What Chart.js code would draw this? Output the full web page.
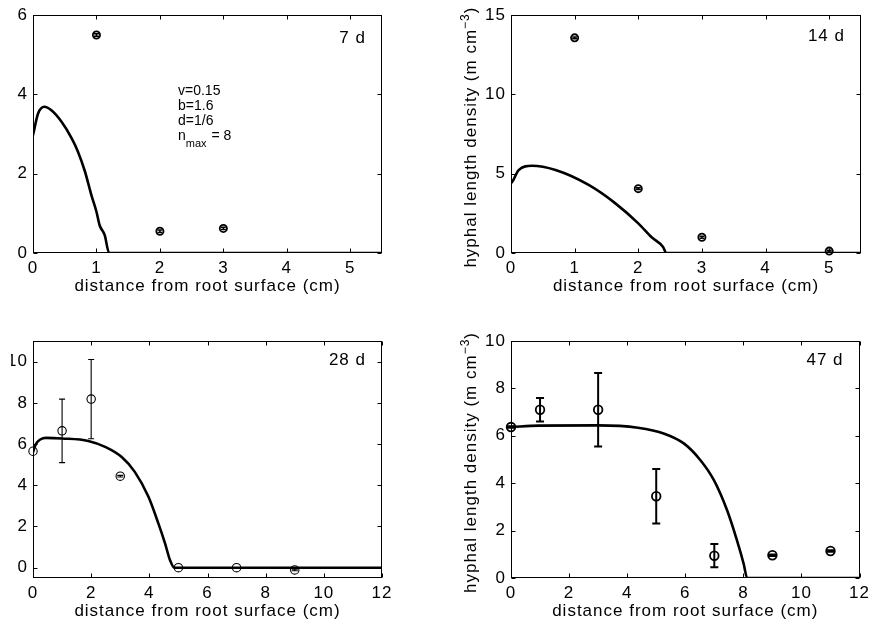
<!DOCTYPE html>
<html>
<head>
<meta charset="utf-8">
<script src="https://cdn.jsdelivr.net/npm/chart.js@4.4.0/dist/chart.umd.min.js"></script>
<style>
  html, body { margin: 0; padding: 0; background: #fff; }
  #page { position: relative; width: 874px; height: 631px; overflow: hidden; }
  .panel { position: absolute; overflow: hidden; }
  .panel canvas { position: absolute; top: 0; }
</style>
</head>
<body>
<div id="page">
  <div class="panel" style="left:0;top:0;width:437px;height:306px"><canvas id="c7" width="437" height="306" style="left:0"></canvas></div>
  <div class="panel" style="left:437px;top:0;width:437px;height:306px"><canvas id="c14" width="437" height="306" style="left:0"></canvas></div>
  <div class="panel" style="left:11px;top:318px;width:426px;height:313px"><canvas id="c28" width="437" height="313" style="left:-11px"></canvas></div>
  <div class="panel" style="left:437px;top:318px;width:437px;height:313px"><canvas id="c47" width="437" height="313" style="left:0"></canvas></div>
</div>
<script>
// tick labels
const xTicksShort = [0, 1, 2, 3, 4, 5];
const xTicksLong = [0, 2, 4, 6, 8, 10, 12];
const yTicks7 = [0, 2, 4, 6];
const yTicks14 = [0, 5, 10, 15];
const yTicks28 = [0, 2, 4, 6, 8, 10];
const yTicks47 = [0, 2, 4, 6, 8, 10];

// 7 d: measured densities and model curve
const obsX7 = [1, 2, 3];
const obsY7 = [5.5, 0.55, 0.62];
const obsErr7 = [0.03, 0.03, 0.03];
const fitX7 = [0, 0.08, 0.18, 0.29, 0.45, 0.61, 0.71, 0.82, 0.92, 1.0, 1.05, 1.13, 1.2, 5.5];
const fitY7 = [2.97, 3.52, 3.69, 3.6, 3.31, 2.89, 2.55, 2.05, 1.46, 1.04, 0.7, 0.45, 0, 0];

// 14 d
const obsX14 = [1, 2, 3, 5];
const obsY14 = [13.57, 4.06, 0.99, 0.12];
const obsErr14 = [0.06, 0.06, 0.06, 0.06];
const fitX14 = [0, 0.03, 0.12, 0.33, 0.7, 1.22, 1.64, 2.0, 2.21, 2.39, 2.44, 5.5];
const fitY14 = [4.4, 4.55, 5.23, 5.5, 5.23, 4.29, 3.13, 1.87, 0.99, 0.38, 0, 0];

// 28 d
const obsX28 = [0, 1, 2, 3, 5, 7, 9];
const obsY28 = [5.65, 6.64, 8.18, 4.44, 0, 0, -0.11];
const obsErr28 = [0, 1.54, 1.92, 0.04, 0, 0, 0.04];
const fitX28 = [0, 0.1, 0.25, 0.45, 1.0, 1.9, 2.5, 3.05, 3.5, 3.97, 4.31, 4.54, 4.71, 4.86, 12];
const fitY28 = [5.6, 6.0, 6.22, 6.3, 6.27, 6.15, 5.85, 5.37, 4.65, 3.44, 2.15, 1.18, 0.37, 0, 0];

// 47 d
const obsX47 = [0, 1, 3, 5, 7, 9, 11];
const obsY47 = [6.37, 7.1, 7.1, 3.45, 0.94, 0.96, 1.14];
const obsErr47 = [0.03, 0.5, 1.55, 1.15, 0.49, 0.03, 0.03];
const fitX47 = [0, 0.95, 3.0, 4.37, 5.28, 5.96, 6.53, 6.99, 7.44, 7.78, 8.01, 8.13, 12];
const fitY47 = [6.37, 6.43, 6.44, 6.34, 6.09, 5.67, 4.96, 4.12, 2.86, 1.59, 0.6, 0, 0];

const FAMILY = "'Liberation Sans', Arial, Helvetica, sans-serif";
const SPACING = '1px';

Chart.defaults.color = '#000';
Chart.defaults.font.family = FAMILY;
Chart.defaults.font.size = 17;

const pairs = (xs, ys) => xs.map((x, i) => ({ x, y: ys[i] }));

// box, inward ticks, error bars and text labels
const framePlugin = {
  id: 'frame',
  beforeDraw(chart) {
    chart.ctx.letterSpacing = SPACING;
  },
  afterDraw(chart, args, opts) {
    const { ctx, chartArea: a, scales: { x, y } } = chart;
    ctx.save();
    ctx.strokeStyle = '#000';
    ctx.fillStyle = '#000';

    // error bars
    chart.data.datasets.forEach(ds => {
      if (!ds.errors) return;
      ctx.lineWidth = ds.errWidth;
      ds.data.forEach((p, i) => {
        const e = ds.errors[i];
        if (!e) return;
        const px = x.getPixelForValue(p.x);
        const lo = y.getPixelForValue(p.y - e);
        const hi = y.getPixelForValue(p.y + e);
        const c = ds.capHalf;
        ctx.beginPath();
        ctx.moveTo(px, lo); ctx.lineTo(px, hi);
        ctx.moveTo(px - c, lo); ctx.lineTo(px + c, lo);
        ctx.moveTo(px - c, hi); ctx.lineTo(px + c, hi);
        ctx.stroke();
      });
    });

    // axes box
    ctx.lineWidth = 1;
    const L = Math.round(a.left) + 0.5, R = Math.round(a.right) - 0.5;
    const T = Math.round(a.top) + 0.5, B = Math.round(a.bottom) - 0.5;
    ctx.strokeRect(L, T, R - L, B - T);

    // inward ticks on all four sides
    const len = 4;
    ctx.beginPath();
    x.ticks.forEach(t => {
      const px = Math.round(x.getPixelForValue(t.value)) + 0.5;
      ctx.moveTo(px, B); ctx.lineTo(px, B - len);
      ctx.moveTo(px, T); ctx.lineTo(px, T + len);
    });
    y.ticks.forEach(t => {
      const py = Math.round(y.getPixelForValue(t.value)) + 0.5;
      ctx.moveTo(L, py); ctx.lineTo(L + len, py);
      ctx.moveTo(R, py); ctx.lineTo(R - len, py);
    });
    ctx.stroke();

    // day label
    ctx.letterSpacing = SPACING;
    ctx.font = '17px ' + FAMILY;
    ctx.textAlign = 'right';
    ctx.textBaseline = 'alphabetic';
    ctx.fillText(opts.day, a.right - 16, a.top + opts.dayDy);

    // parameter notes
    if (opts.notes) {
      ctx.letterSpacing = '0px';
      ctx.textAlign = 'left';
      ctx.font = '14px ' + FAMILY;
      const nx = a.left + 145;
      let ny = a.top + 80;
      opts.notes.forEach(line => {
        ctx.fillText(line, nx, ny);
        ny += 15;
      });
      ctx.fillText('n', nx, ny);
      const wn = ctx.measureText('n').width;
      ctx.font = '11px ' + FAMILY;
      ctx.fillText('max', nx + wn, ny + 7);
      const wm = ctx.measureText('max').width;
      ctx.font = '14px ' + FAMILY;
      ctx.fillText(' = 8', nx + wn + wm + 1, ny);
    }

    // y-axis title with superscript
    if (opts.yTitle) {
      const main = 'hyphal length density (m cm';
      const sup = '\u22123';
      const tail = ')';
      const mainFont = '17px ' + FAMILY;
      const supFont = '12px ' + FAMILY;
      ctx.letterSpacing = SPACING;
      ctx.textAlign = 'left';
      ctx.font = mainFont;
      const w1 = ctx.measureText(main).width;
      const w3 = ctx.measureText(tail).width;
      ctx.font = supFont;
      const w2 = ctx.measureText(sup).width;
      const total = w1 + w2 + w3;
      ctx.translate(opts.yTitleX, (a.top + a.bottom) / 2 + 3);
      ctx.rotate(-Math.PI / 2);
      let cx = -total / 2;
      ctx.font = mainFont;
      ctx.fillText(main, cx, 0);
      cx += w1;
      ctx.font = supFont;
      ctx.fillText(sup, cx, -7);
      cx += w2;
      ctx.font = mainFont;
      ctx.fillText(tail, cx, 0);
    }
    ctx.restore();
  }
};

function makePanel(id, cfg) {
  return new Chart(document.getElementById(id), {
    type: 'scatter',
    data: {
      datasets: [{
        data: pairs(cfg.fitX, cfg.fitY),
        showLine: true,
        borderColor: '#000',
        borderWidth: 2.6,
        pointRadius: 0,
        cubicInterpolationMode: 'monotone'
      }, {
        data: pairs(cfg.obsX, cfg.obsY),
        errors: cfg.obsErr,
        errWidth: cfg.errWidth,
        capHalf: cfg.capHalf,
        showLine: false,
        pointStyle: 'circle',
        pointRadius: cfg.markerR,
        pointBorderWidth: cfg.markerW,
        pointBorderColor: '#000',
        pointBackgroundColor: 'rgba(0,0,0,0)',
        clip: false
      }]
    },
    options: {
      responsive: false,
      animation: false,
      devicePixelRatio: 1,
      events: [],
      layout: { padding: cfg.padding },
      plugins: {
        legend: { display: false },
        tooltip: { enabled: false },
        frame: { day: cfg.day, dayDy: cfg.dayDy, notes: cfg.notes, yTitle: cfg.yTitle, yTitleX: 39 }
      },
      scales: {
        x: {
          type: 'linear',
          min: cfg.xMin, max: cfg.xMax,
          grid: { display: false, drawTicks: false },
          border: { display: false },
          ticks: { padding: 5, autoSkip: false, maxRotation: 0 },
          title: { display: true, text: 'distance from root surface (cm)', padding: { top: 0, bottom: 9 } },
          afterBuildTicks: s => { s.ticks = cfg.xTicks.map(v => ({ value: v })); },
          afterFit: s => { s.height = 53; }
        },
        y: {
          type: 'linear',
          min: cfg.yMin, max: cfg.yMax,
          grid: { display: false, drawTicks: false },
          border: { display: false },
          ticks: { padding: 5, autoSkip: false },
          afterBuildTicks: s => { s.ticks = cfg.yTicks.map(v => ({ value: v })); },
          afterFit: s => { s.width = cfg.yWidth; }
        }
      }
    },
    plugins: [framePlugin]
  });
}

makePanel('c7', {
  fitX: fitX7, fitY: fitY7, obsX: obsX7, obsY: obsY7, obsErr: obsErr7,
  xMin: 0, xMax: 5.5, yMin: 0, yMax: 6, xTicks: xTicksShort, yTicks: yTicks7,
  padding: { top: 15, right: 55, left: 0, bottom: 0 }, yWidth: 33,
  markerR: 3.6, markerW: 1.8, errWidth: 1.5, capHalf: 2.5,
  day: '7 d', dayDy: 28,
  notes: ['v=0.15', 'b=1.6', 'd=1/6']
});

makePanel('c14', {
  fitX: fitX14, fitY: fitY14, obsX: obsX14, obsY: obsY14, obsErr: obsErr14,
  xMin: 0, xMax: 5.5, yMin: 0, yMax: 15, xTicks: xTicksShort, yTicks: yTicks14,
  padding: { top: 15, right: 13, left: 0, bottom: 0 }, yWidth: 74,
  markerR: 3.6, markerW: 1.8, errWidth: 1.5, capHalf: 2.5,
  day: '14 d', dayDy: 26, yTitle: true
});

makePanel('c28', {
  fitX: fitX28, fitY: fitY28, obsX: obsX28, obsY: obsY28, obsErr: obsErr28,
  xMin: 0, xMax: 12, yMin: -0.5, yMax: 11, xTicks: xTicksLong, yTicks: yTicks28,
  padding: { top: 23, right: 55, left: 0, bottom: 0 }, yWidth: 33,
  markerR: 4.2, markerW: 1.1, errWidth: 1.1, capHalf: 3,
  day: '28 d', dayDy: 24
});

makePanel('c47', {
  fitX: fitX47, fitY: fitY47, obsX: obsX47, obsY: obsY47, obsErr: obsErr47,
  xMin: 0, xMax: 12, yMin: 0, yMax: 10, xTicks: xTicksLong, yTicks: yTicks47,
  padding: { top: 23, right: 12, left: 0, bottom: 0 }, yWidth: 74,
  markerR: 4.3, markerW: 1.8, errWidth: 2, capHalf: 4,
  day: '47 d', dayDy: 24, yTitle: true
});
</script>
</body>
</html>
